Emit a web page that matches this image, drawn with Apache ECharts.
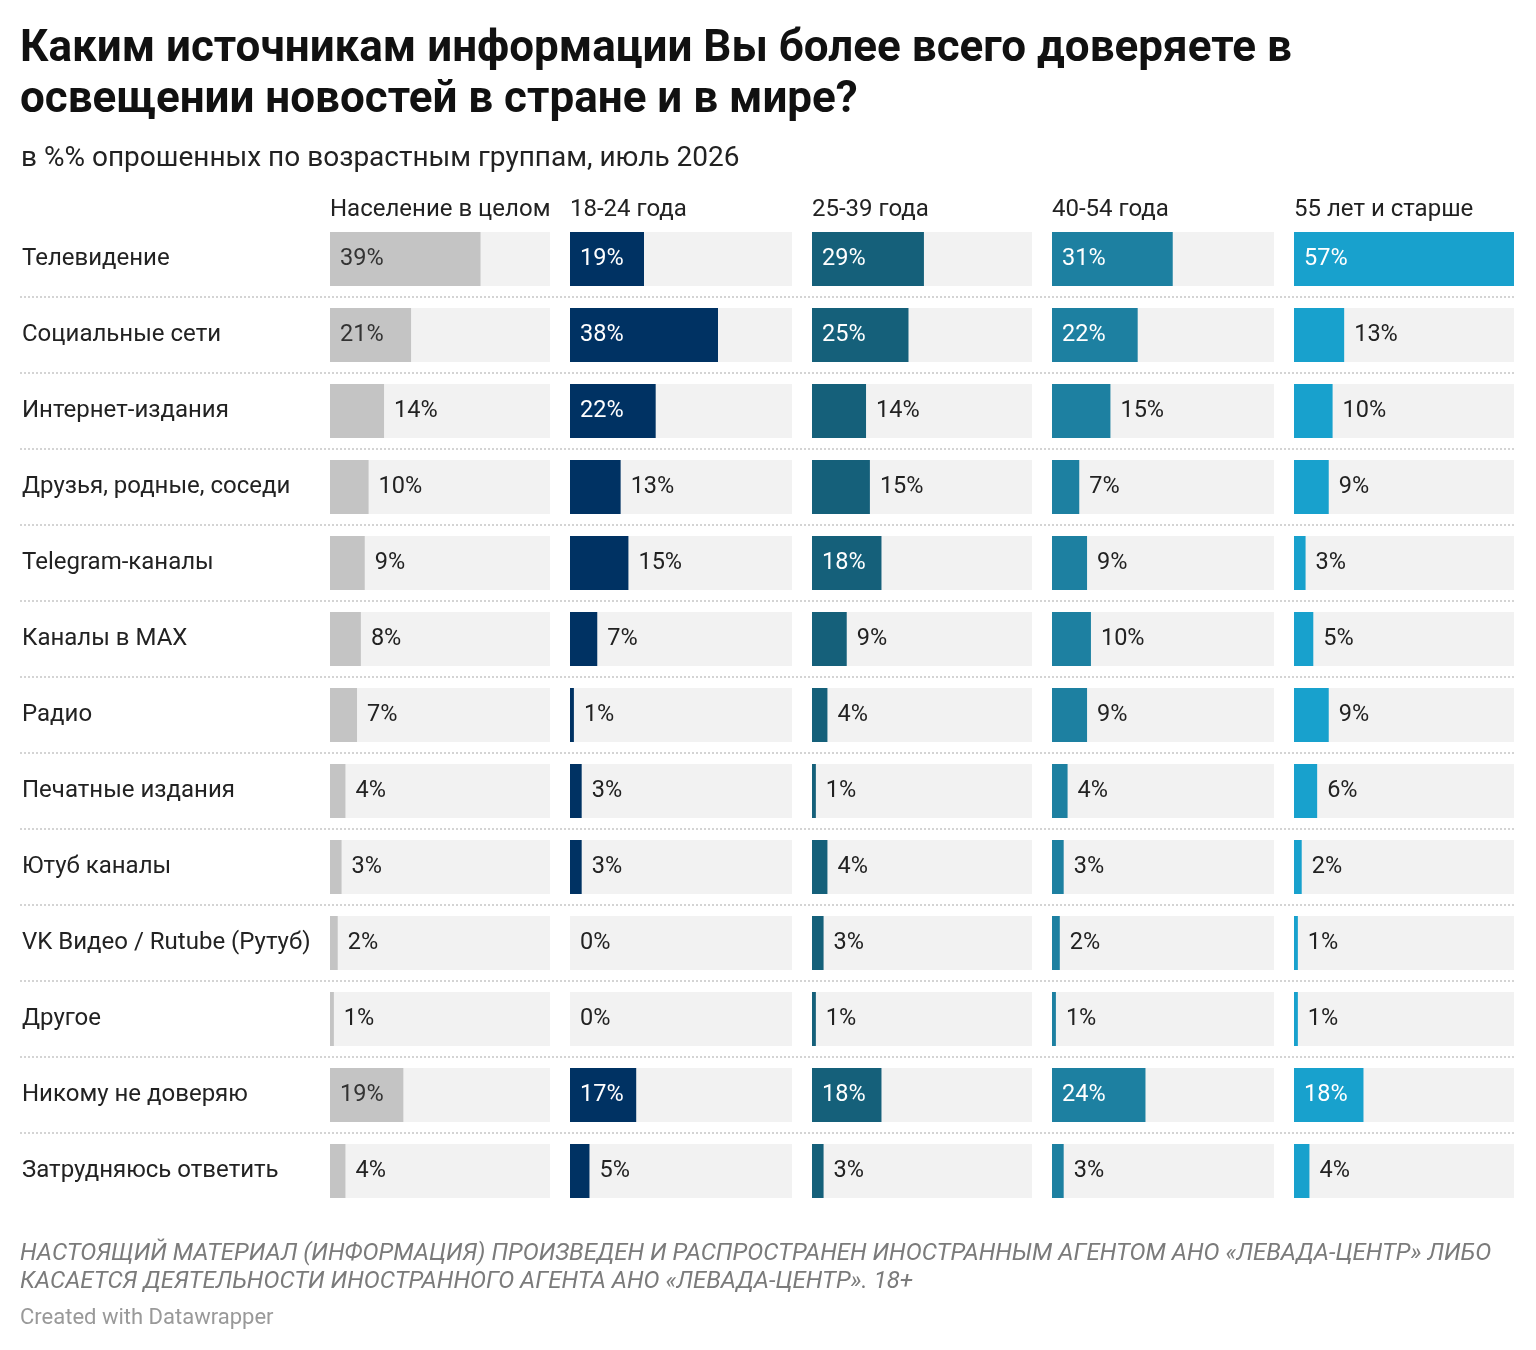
<!DOCTYPE html>
<html>
<head>
<meta charset="utf-8">
<title>Доверие к источникам информации</title>
<script src="https://cdn.jsdelivr.net/npm/echarts@6/dist/echarts.min.js"></script>
<style>
	html, body { margin: 0; padding: 0; background: #fff; }
	#main { width: 1536px; height: 1350px; }
</style>
</head>
<body>
<div id="main"></div>
<script>
// источники информации (строки)
var categories = [
	'Телевидение', 'Социальные сети', 'Интернет-издания', 'Друзья, родные, соседи',
	'Telegram-каналы', 'Каналы в MAX', 'Радио', 'Печатные издания', 'Ютуб каналы',
	'VK Видео / Rutube (Рутуб)', 'Другое', 'Никому не доверяю', 'Затрудняюсь ответить'
];

// возрастные группы (колонки)
var groups = ['Население в целом', '18-24 года', '25-39 года', '40-54 года', '55 лет и старше'];

// значения, %
var total = [39, 21, 14, 10, 9, 8, 7, 4, 3, 2, 1, 19, 4];
var age18 = [19, 38, 22, 13, 15, 7, 1, 3, 3, 0, 0, 17, 5];
var age25 = [29, 25, 14, 15, 18, 9, 4, 1, 4, 3, 1, 18, 3];
var age40 = [31, 22, 15, 7, 9, 10, 9, 4, 3, 2, 1, 24, 3];
var age55 = [57, 13, 10, 9, 3, 5, 9, 6, 2, 1, 1, 18, 4];

var values = [total, age18, age25, age40, age55];
var colors = ['#c4c4c4', '#003263', '#15607a', '#1d80a1', '#18a1cd'];

var FONT = 'Roboto, "Noto Sans", sans-serif';
var colLeft = [330, 570, 812, 1052, 1294];
var colWidth = [220, 222, 220, 222, 220];
var gridTop = 221, gridHeight = 988;

window.onload = function(){
	var chart = echarts.init(document.getElementById('main'));

	var grids = [], xAxes = [], yAxes = [], series = [], titles = [];

	// сетка для пунктирных разделителей
	grids.push({left: 20, width: 1494, top: gridTop, height: gridHeight});
	xAxes.push({gridIndex: 0, type: 'value', min: 0, max: 1, show: false});
	yAxes.push({
		gridIndex: 0, type: 'category', data: categories, inverse: true,
		axisLine: {show: false}, axisTick: {show: false}, axisLabel: {show: false},
		splitLine: {show: true, showMinLine: false, showMaxLine: false,
			lineStyle: {color: '#d4d4d4', width: 2, type: [2, 2]}}
	});

	for (var c = 0; c < groups.length; c++) {
		var gi = c + 1;
		grids.push({left: colLeft[c], width: colWidth[c], top: gridTop, height: gridHeight});
		xAxes.push({gridIndex: gi, type: 'value', min: 0, max: 57, show: false});
		yAxes.push({
			gridIndex: gi, type: 'category', data: categories, inverse: true,
			axisLine: {show: false}, axisTick: {show: false}, splitLine: {show: false},
			axisLabel: c === 0 ? {
				show: true, align: 'left', margin: 308,
				fontFamily: FONT, fontSize: 24, color: '#222'
			} : {show: false}
		});

		var data = values[c].map(function(v){
			var inside = v >= 16;
			return {
				value: v,
				label: {
					position: inside ? 'insideLeft' : 'right',
					color: inside ? (c === 0 ? '#333' : '#fff') : '#222'
				}
			};
		});

		series.push({
			type: 'bar', name: groups[c], xAxisIndex: gi, yAxisIndex: gi,
			data: data, barWidth: 54,
			itemStyle: {color: colors[c]},
			showBackground: true,
			backgroundStyle: {color: '#f2f2f2'},
			label: {show: true, distance: 10, formatter: '{c}%', fontFamily: FONT, fontSize: 23.5},
			silent: true
		});

		titles.push({
			text: groups[c], left: colLeft[c], top: 196, padding: 0,
			textStyle: {fontFamily: FONT, fontSize: 24, fontWeight: 'normal', color: '#222', lineHeight: 28}
		});
	}

	titles.push({
		text: 'Каким источникам информации Вы более всего доверяете в\nосвещении новостей в стране и в мире?',
		left: 20, top: 24, padding: 0,
		textStyle: {fontFamily: FONT, fontSize: 44, fontWeight: 'bold', color: '#111', lineHeight: 51}
	});
	titles.push({
		text: 'в %% опрошенных по возрастным группам, июль 2026',
		left: 21, top: 144, padding: 0,
		textStyle: {fontFamily: FONT, fontSize: 28, fontWeight: 'normal', color: '#222', lineHeight: 30}
	});
	titles.push({
		text: 'НАСТОЯЩИЙ МАТЕРИАЛ (ИНФОРМАЦИЯ) ПРОИЗВЕДЕН И РАСПРОСТРАНЕН ИНОСТРАННЫМ АГЕНТОМ АНО «ЛЕВАДА-ЦЕНТР» ЛИБО\nКАСАЕТСЯ ДЕЯТЕЛЬНОСТИ ИНОСТРАННОГО АГЕНТА АНО «ЛЕВАДА-ЦЕНТР». 18+',
		left: 20, top: 1240, padding: 0,
		textStyle: {fontFamily: FONT, fontSize: 24, fontWeight: 'normal', fontStyle: 'italic', color: '#7b7b7b', lineHeight: 28}
	});
	titles.push({
		text: 'Created with Datawrapper',
		left: 20, top: 1306, padding: 0,
		textStyle: {fontFamily: FONT, fontSize: 22, fontWeight: 'normal', color: '#999', lineHeight: 24}
	});

	var option = {
		animation: false,
		backgroundColor: '#fff',
		title: titles,
		grid: grids,
		xAxis: xAxes,
		yAxis: yAxes,
		series: series
	};
	chart.setOption(option);
};
</script>
</body>
</html>
